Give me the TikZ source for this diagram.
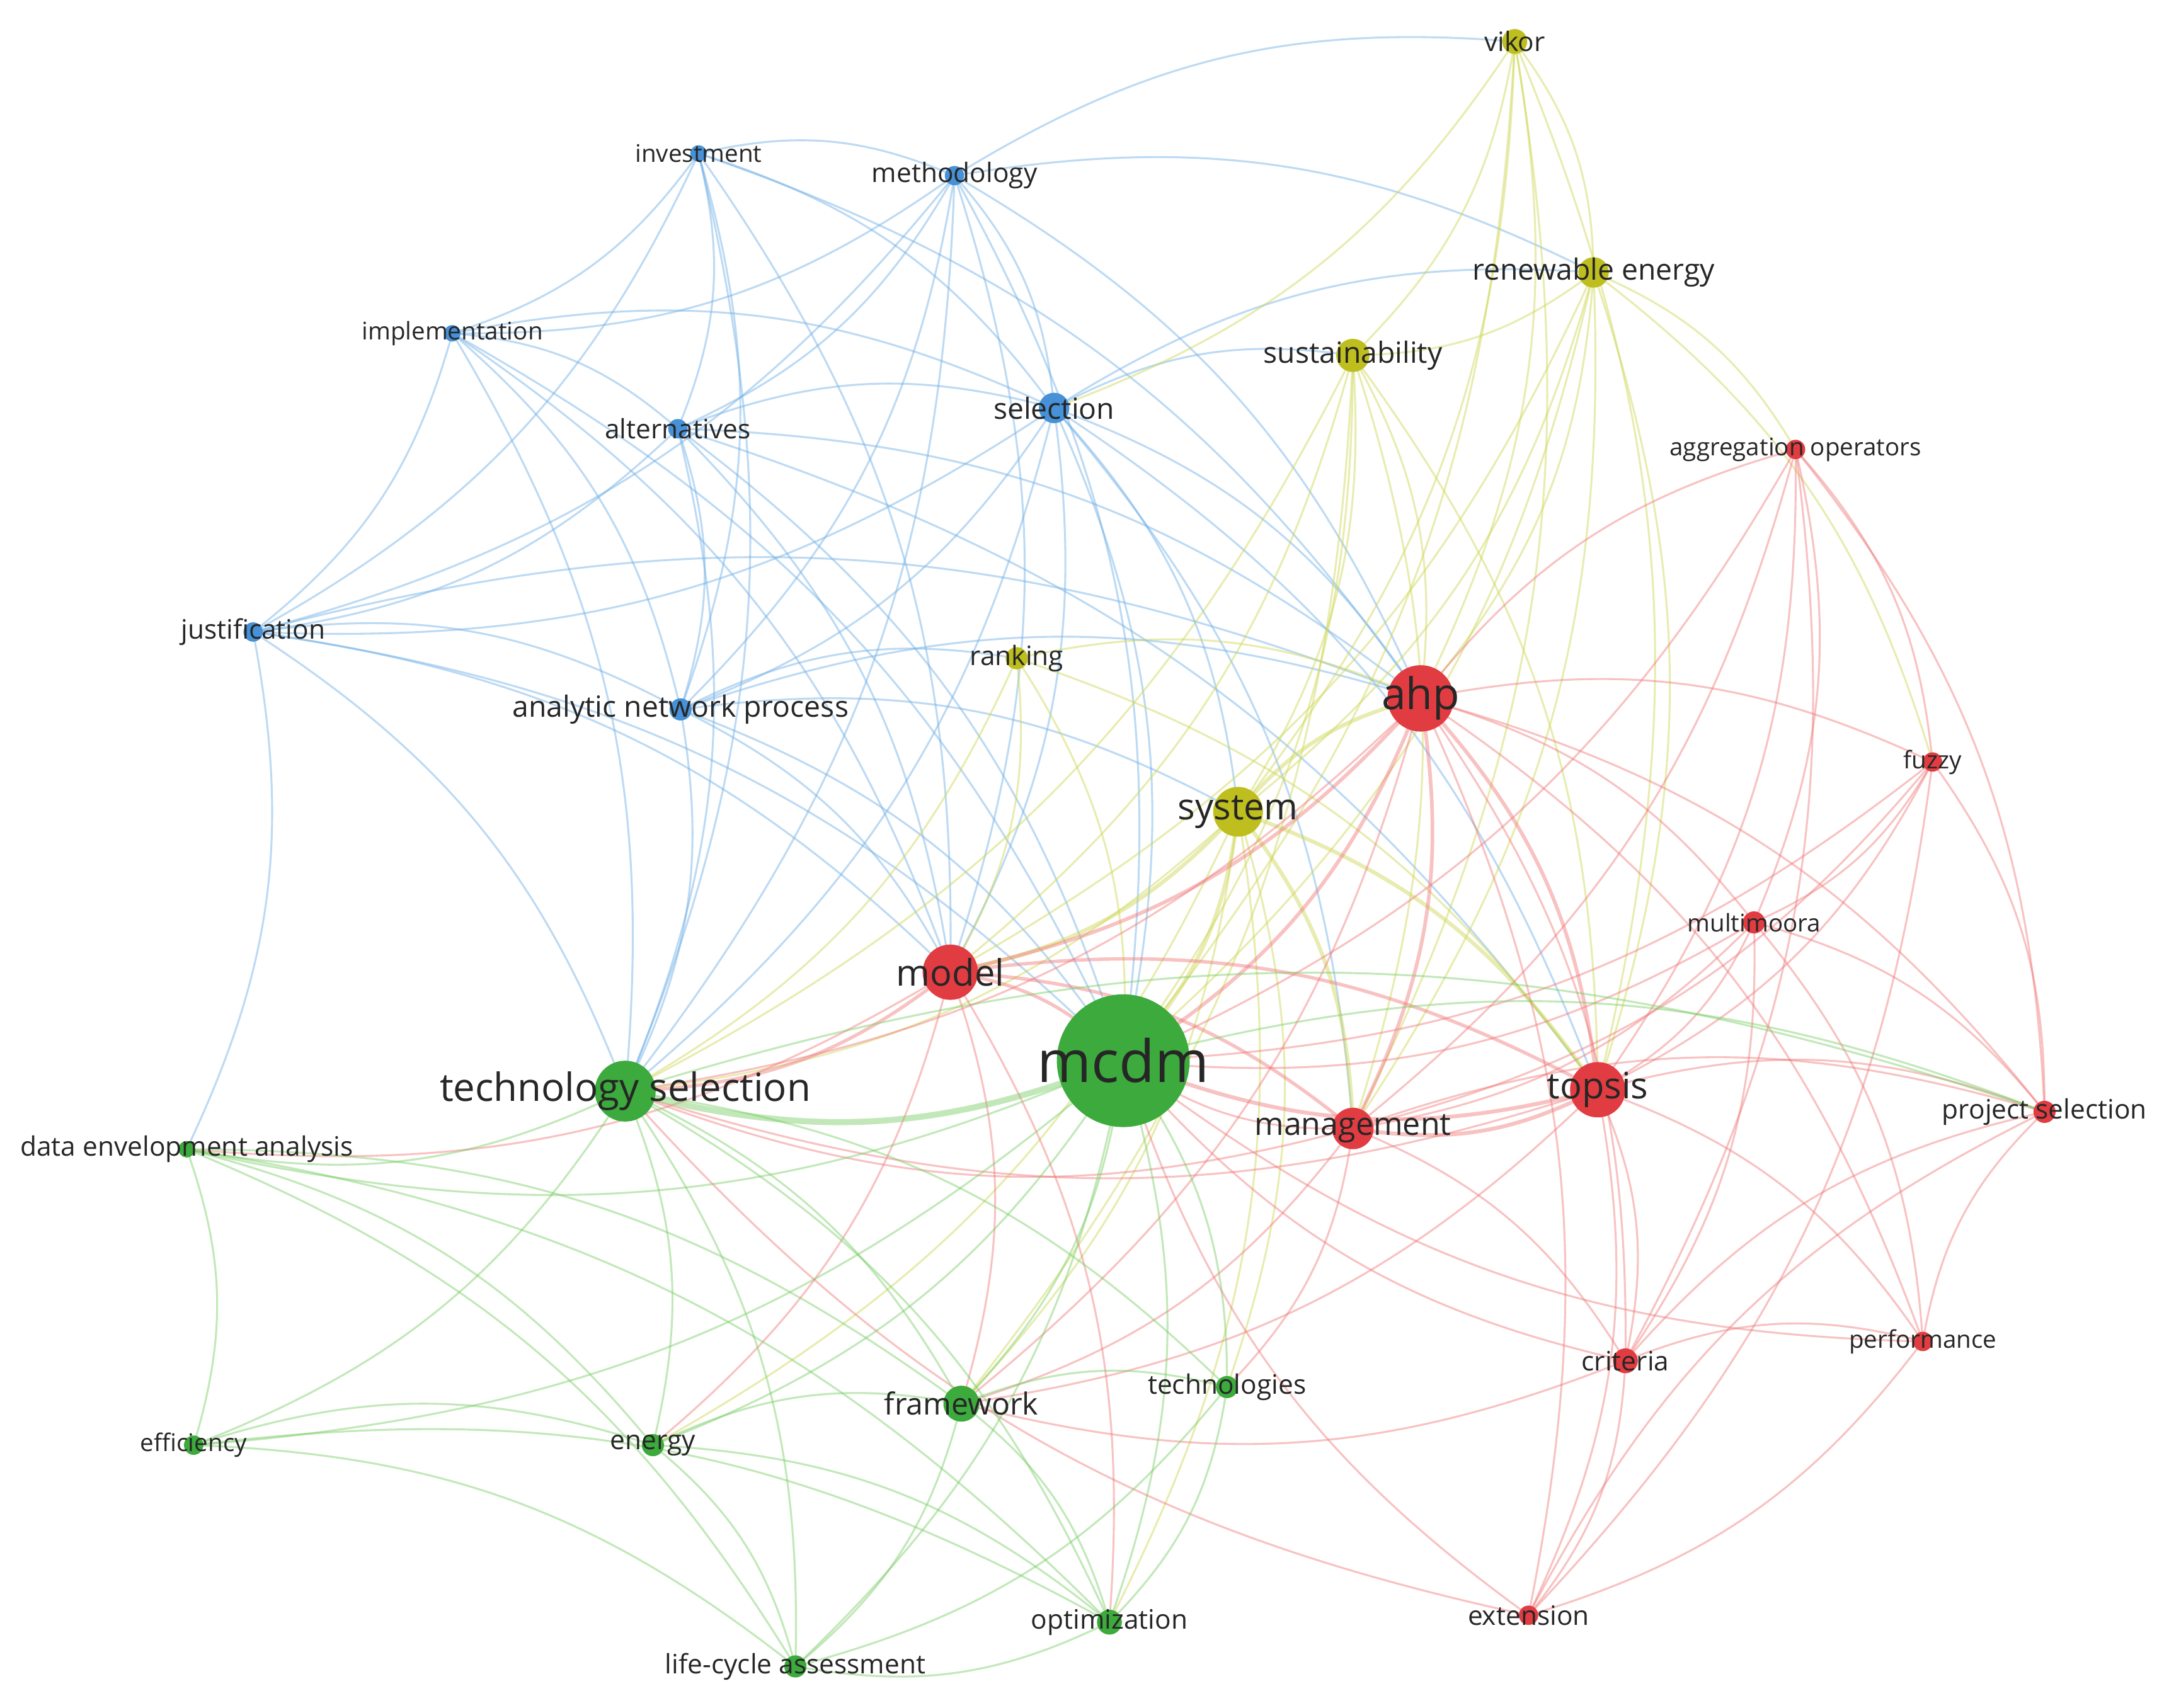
\documentclass[tikz,border=0pt]{standalone}
\usepackage{fontspec}
\setmainfont{Open Sans}
\begin{document}
\begin{tikzpicture}[x=0.02cm,y=-0.02cm]
\definecolor{cB}{RGB}{70,145,215}\definecolor{eB}{RGB}{110,175,230}
\definecolor{cG}{RGB}{60,170,60}\definecolor{eG}{RGB}{120,205,100}
\definecolor{cR}{RGB}{225,60,65}\definecolor{eR}{RGB}{240,120,120}
\definecolor{cY}{RGB}{190,190,30}\definecolor{eY}{RGB}{205,215,80}
\tikzset{ed/.style={line width=0.8pt,opacity=0.45},
 lab/.style={font=\fontsize{#1}{#1}\selectfont,text=black!85,inner sep=0pt}}
\fill[white] (0,0) rectangle (1568,1235);
\useasboundingbox (0,0) rectangle (1568,1235);
% coordinates
\coordinate (inv) at (505,111);\coordinate (meth) at (690,127);
\coordinate (impl) at (327,241);\coordinate (alt) at (490,310);
\coordinate (sel) at (762,295);\coordinate (just) at (183,457);
\coordinate (anp) at (492,513);
\coordinate (vik) at (1095,30);\coordinate (ren) at (1152,197);
\coordinate (sus) at (978,257);\coordinate (rank) at (735,476);
\coordinate (sys) at (895,587);
\coordinate (agg) at (1298,325);\coordinate (ahp) at (1027,505);
\coordinate (fuz) at (1397,551);\coordinate (mul) at (1268,667);
\coordinate (mod) at (687,703);\coordinate (top) at (1155,788);
\coordinate (man) at (978,816);\coordinate (psel) at (1478,804);
\coordinate (cri) at (1175,984);\coordinate (perf) at (1390,970);
\coordinate (ext) at (1105,1168);
\coordinate (mcdm) at (812,767);\coordinate (tech) at (452,789);
\coordinate (dea) at (135,831);\coordinate (eff) at (140,1045);
\coordinate (ener) at (472,1045);\coordinate (fra) at (695,1015);
\coordinate (techs) at (887,1003);\coordinate (opt) at (802,1173);
\coordinate (lca) at (575,1205);
% edges
\newcommand{\edges}[3]{\foreach \t in {#3} \draw[ed,#1] (#2) to[bend left=18] (\t);}
\edges{eB}{inv}{meth,impl,alt,sel,just,anp,ahp,mod,tech}
\edges{eB}{meth}{impl,alt,sel,just,anp,vik,ren,ahp,mcdm,tech,mod}
\edges{eB}{impl}{alt,sel,just,anp,tech,mcdm,mod}
\edges{eB}{alt}{sel,just,anp,ahp,mod,tech,mcdm,top}
\edges{eB}{sel}{just,anp,sus,ren,ahp,sys,mod,mcdm,tech,top,man}
\edges{eB}{just}{anp,tech,dea,mod,ahp,mcdm}
\edges{eB}{anp}{mod,mcdm,tech,ahp,sys,rank}
\edges{eY}{vik}{ren,sus,ahp,top,mcdm,sys,sel,man}
\edges{eY}{ren}{sus,ahp,sys,mcdm,top,agg,fuz,mod,man}
\edges{eY}{sus}{ahp,sys,mcdm,mod,top,man,tech,fra}
\edges{eY}{rank}{mcdm,mod,ahp,tech,top}
\edges{eY,line width=1.6pt}{sys}{mcdm,mod,ahp,top,man}
\edges{eY}{sys}{tech,fra,ener,opt,techs}
\edges{eR,line width=1.5pt}{ahp}{mod,mcdm,top,man}
\edges{eR}{ahp}{fuz,mul,agg,cri,perf,psel,tech,ext,fra}
\edges{eR}{agg}{top,fuz,mul,mcdm,cri,man,psel}
\edges{eR}{fuz}{top,mul,psel,mcdm,man,ext}
\edges{eR}{mul}{top,psel,cri,mcdm,man,perf}
\edges{eR,line width=1.4pt}{mod}{mcdm,tech,man,top}
\edges{eR}{mod}{fra,ener,opt,dea}
\edges{eR,line width=1.6pt}{top}{mcdm,man}
\edges{eR}{top}{cri,psel,perf,ext,tech,fra}
\edges{eR}{man}{mcdm,cri,tech,psel,fra,techs}
\edges{eR}{cri}{mcdm,ext,perf,psel,fra}
\edges{eR}{perf}{mcdm,psel,ext}
\edges{eR}{ext}{mcdm,psel,tech}
\edges{eG,line width=2.5pt}{mcdm}{tech}
\edges{eG}{mcdm}{fra,techs,opt,lca,ener,eff,dea,psel}
\edges{eG}{tech}{dea,eff,ener,fra,lca,opt,techs,psel}
\edges{eG}{dea}{eff,ener,fra,lca,opt}
\edges{eG}{eff}{ener,lca,opt}
\edges{eG}{ener}{fra,lca,opt}
\edges{eG}{fra}{lca,opt,techs}
\edges{eG}{techs}{opt,lca}
\edges{eG}{opt}{lca}
% dots
\newcommand{\dotat}[3]{\fill[#1] (#2) circle (#3);}
\dotat{cB}{inv}{6}\dotat{cB}{meth}{7}\dotat{cB}{impl}{6}\dotat{cB}{alt}{7}
\dotat{cB}{sel}{11}\dotat{cB}{just}{7}\dotat{cB}{anp}{8}
\dotat{cY}{vik}{9}\dotat{cY}{ren}{11}\dotat{cY}{sus}{12}\dotat{cY}{rank}{8}\dotat{cY}{sys}{18}
\dotat{cR}{agg}{7}\dotat{cR}{ahp}{24}\dotat{cR}{fuz}{7}\dotat{cR}{mul}{8}
\dotat{cR}{mod}{20}\dotat{cR}{top}{20}\dotat{cR}{man}{15}\dotat{cR}{psel}{8}
\dotat{cR}{cri}{9}\dotat{cR}{perf}{7}\dotat{cR}{ext}{7}
\dotat{cG}{mcdm}{48}\dotat{cG}{tech}{22}\dotat{cG}{dea}{6}\dotat{cG}{eff}{7}
\dotat{cG}{ener}{8}\dotat{cG}{fra}{13}\dotat{cG}{techs}{8}\dotat{cG}{opt}{9}\dotat{cG}{lca}{8}
% labels
\node[lab=10] (inv-l) at (inv) {investment};
\node[lab=11] (meth-l) at (meth) {methodology};
\node[lab=10] (impl-l) at (impl) {implementation};
\node[lab=11] (alt-l) at (alt) {alternatives};
\node[lab=12] (sel-l) at (sel) {selection};
\node[lab=11] (just-l) at (just) {justification};
\node[lab=12] (anp-l) at (anp) {analytic network process};
\node[lab=11] (vik-l) at (vik) {vikor};
\node[lab=12] (ren-l) at (ren) {renewable energy};
\node[lab=12] (sus-l) at (sus) {sustainability};
\node[lab=11] (rank-l) at (rank) {ranking};
\node[lab=15] (sys-l) at (sys) {system};
\node[lab=10] (agg-l) at (agg) {aggregation operators};
\node[lab=18] (ahp-l) at (ahp) {ahp};
\node[lab=10] (fuz-l) at (fuz) {fuzzy};
\node[lab=10] (mul-l) at (mul) {multimoora};
\node[lab=15] (mod-l) at (mod) {model};
\node[lab=15] (top-l) at (top) {topsis};
\node[lab=13] (man-l) at (man) {management};
\node[lab=11] (psel-l) at (psel) {project selection};
\node[lab=11] (cri-l) at (cri) {criteria};
\node[lab=10] (perf-l) at (perf) {performance};
\node[lab=11] (ext-l) at (ext) {extension};
\node[lab=24] (mcdm-l) at (mcdm) {mcdm};
\node[lab=16] (tech-l) at (tech) {technology selection};
\node[lab=11] (dea-l) at (dea) {data envelopment analysis};
\node[lab=10] (eff-l) at (eff) {efficiency};
\node[lab=11] (ener-l) at (ener) {energy};
\node[lab=12.5] (fra-l) at (fra) {framework};
\node[lab=11] (techs-l) at (techs) {technologies};
\node[lab=11] (opt-l) at (opt) {optimization};
\node[lab=11] (lca-l) at (lca) {life-cycle assessment};
\end{tikzpicture}
\end{document}
